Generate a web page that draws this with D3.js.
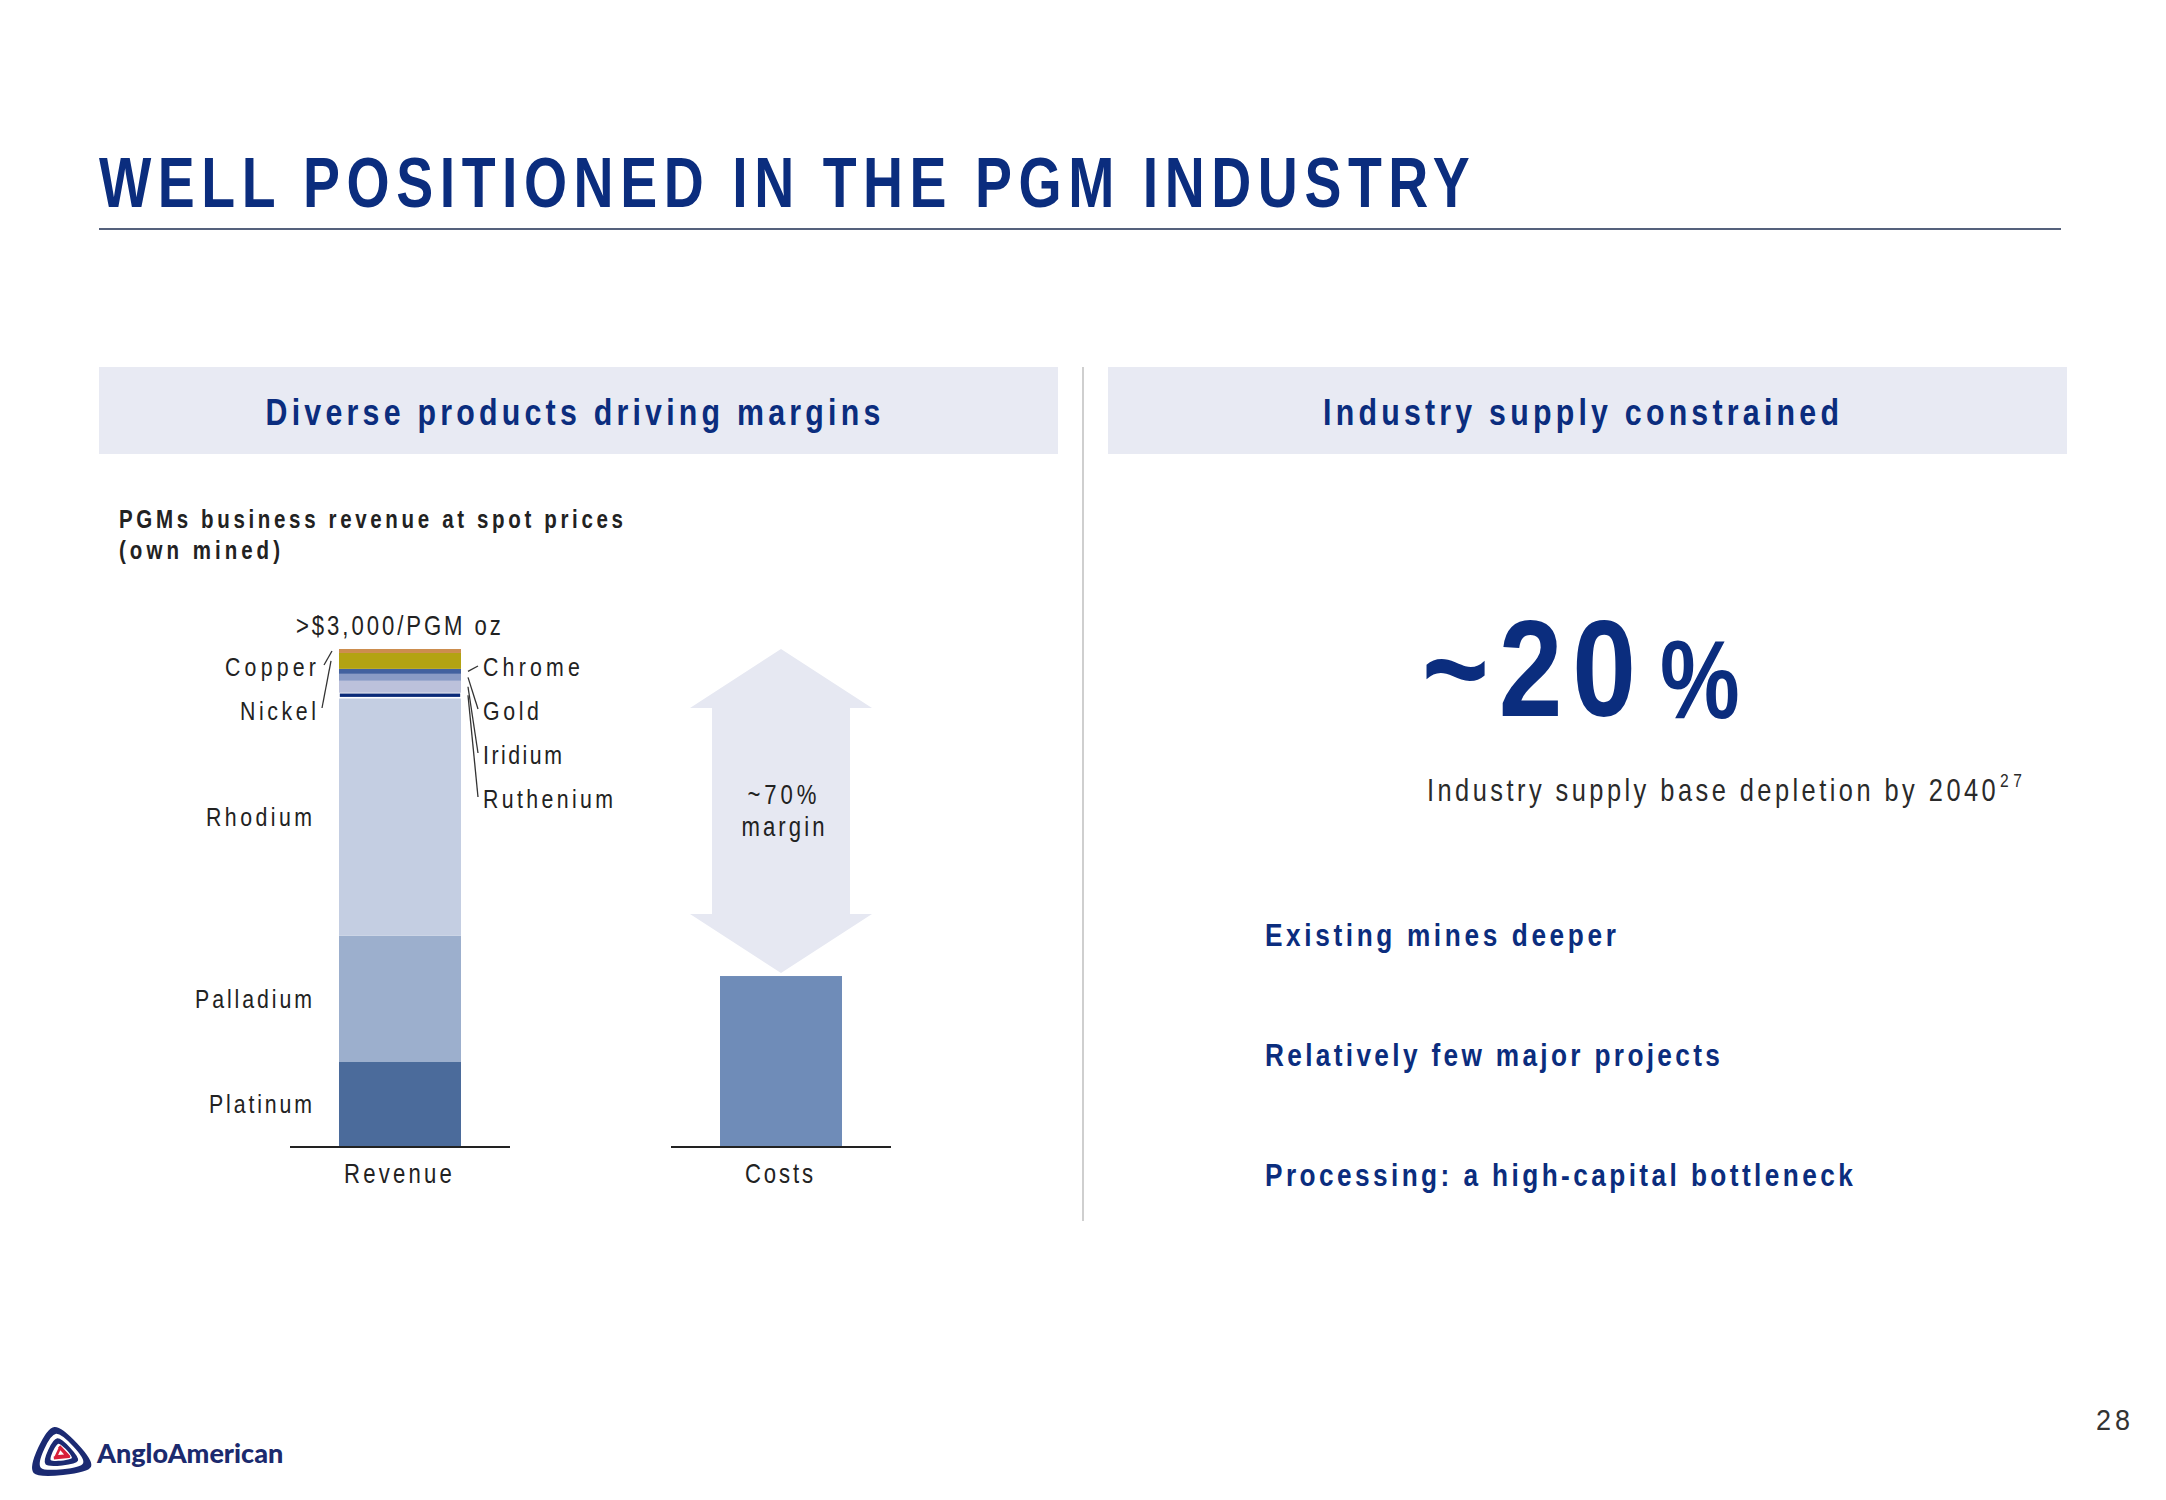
<!DOCTYPE html>
<html><head><meta charset="utf-8">
<script src="https://cdn.jsdelivr.net/npm/d3@7"></script>
<style>
html,body{margin:0;padding:0;background:#fff;}
svg{display:block;}
</style></head><body>
<svg id="c" width="2166" height="1500"></svg>
<script>
// ---------------- DATA ----------------
const categories = ["Revenue", "Costs"];
const products = ["Platinum","Palladium","Rhodium","Ruthenium","Iridium","Gold","Chrome","Nickel","Copper"];
const revenueShare = [16.9, 25.4, 47.9, 1.0, 2.4, 1.4, 1.0, 3.2, 0.8];   // % of revenue
const productColors = ["#4b6b9b","#9cafcd","#c4cee2","#0b2a78","#bcc1db","#8a9bc5","#42619f","#b3a312","#cc8d4e"];
const costsShare = 34.2;
const marginLabel = ["~70%", "margin"];
const priceLabel = ">$3,000/PGM oz";
const bigStat = "~20";
const bigStatText = "Industry supply base depletion by 2040";
const bigStatNote = "27";
const bullets = ["Existing mines deeper", "Relatively few major projects", "Processing: a high-capital bottleneck"];
const leftLabelled = ["Copper", "Nickel"];
const rightLabelled = ["Chrome", "Gold", "Iridium", "Ruthenium"];
const insideLabelled = ["Rhodium", "Palladium", "Platinum"];

// ---------------- STYLE ----------------
const SANS = "'Liberation Sans',Arial,sans-serif";
const NAVY = "#0b2d7e";
const INK = "#222";
const svg = d3.select("#c");

// condensed text helper: horizontally scaled, letter-spaced to a target width
function txt(str, o) {
  const sx = o.sx || 0.82;
  const g = svg.append("g");
  const t = g.append("text").attr("font-family", o.family || SANS).attr("font-size", o.size)
    .attr("font-weight", o.weight || 400).attr("fill", o.fill || INK).text(str);
  const w0 = t.node().getComputedTextLength();
  let ls = 0;
  if (o.width && str.length > 1) ls = (o.width / sx - w0) / (str.length - 1);
  t.attr("letter-spacing", ls);
  const W = o.width || w0 * sx;
  const anchor = o.anchor || "start";
  const x0 = anchor === "start" ? o.x : anchor === "end" ? o.x - W : o.x - W / 2;
  g.attr("transform", `translate(${x0},${o.y}) scale(${sx},1)`);
  return t;
}

// Title
txt("WELL POSITIONED IN THE PGM INDUSTRY", {x: 99, y: 207, size: 71, weight: 700, fill: NAVY, width: 1371, sx: 0.78});
svg.append("line").attr("x1", 99).attr("x2", 2061).attr("y1", 229).attr("y2", 229)
  .attr("stroke", "#1d2d50").attr("stroke-width", 1.5);

// Panel headers
const panels = [
  {x: 99, w: 959, text: "Diverse products driving margins", cx: 573, tw: 615},
  {x: 1108, w: 959, text: "Industry supply constrained", cx: 1581, tw: 516}
];
panels.forEach(p => {
  svg.append("rect").attr("x", p.x).attr("y", 367).attr("width", p.w).attr("height", 87).attr("fill", "#e8eaf3");
  txt(p.text, {x: p.cx, y: 425, anchor: "middle", size: 37, weight: 700, fill: NAVY, width: p.tw});
});
svg.append("line").attr("x1", 1083).attr("x2", 1083).attr("y1", 367).attr("y2", 1221)
  .attr("stroke", "#cfcfcf").attr("stroke-width", 2);

// Subtitle
txt("PGMs business revenue at spot prices", {x: 119, y: 528, size: 25, weight: 700, width: 504});
txt("(own mined)", {x: 119, y: 559, size: 25, weight: 700, width: 161});

// ---------------- CHART ----------------
const x = d3.scaleBand().domain(categories).range([290, 891]).paddingInner(0.4226);
const y = d3.scaleLinear().domain([0, 100]).range([1146, 649]);
const barW = 122;
const bx = c => x(c) + (x.bandwidth() - barW) / 2;
const color = d3.scaleOrdinal().domain(products).range(productColors);

const row = Object.fromEntries(products.map((p, i) => [p, revenueShare[i]]));
const stacked = d3.stack().keys(products)([row]);
const seg = {};
stacked.forEach(s => { seg[s.key] = s[0]; });

// margin arrow
const cx = x("Costs") + x.bandwidth() / 2;
const aTop = y(100), aBot = y(costsShare) - 3;
const headH = 59, headHW = 91, shaftHW = 69;
const ap = d3.path();
ap.moveTo(cx, aTop);
ap.lineTo(cx + headHW, aTop + headH);
ap.lineTo(cx + shaftHW, aTop + headH);
ap.lineTo(cx + shaftHW, aBot - headH);
ap.lineTo(cx + headHW, aBot - headH);
ap.lineTo(cx, aBot);
ap.lineTo(cx - headHW, aBot - headH);
ap.lineTo(cx - shaftHW, aBot - headH);
ap.lineTo(cx - shaftHW, aTop + headH);
ap.lineTo(cx - headHW, aTop + headH);
ap.closePath();
svg.append("path").attr("d", ap.toString()).attr("fill", "#e6e8f2");

txt(marginLabel[0], {x: 782, y: 804, anchor: "middle", size: 27, width: 69});
txt(marginLabel[1], {x: 783, y: 836, anchor: "middle", size: 27, width: 83});

// revenue stack
svg.append("g").selectAll("rect").data(stacked).join("rect")
  .attr("x", bx("Revenue")).attr("width", barW)
  .attr("y", d => y(d[0][1])).attr("height", d => y(d[0][0]) - y(d[0][1]))
  .attr("fill", d => color(d.key))
  .attr("stroke", d => d.key === "Ruthenium" ? "#fff" : "none")
  .attr("stroke-width", 1.6);

// costs bar
svg.append("rect").attr("x", bx("Costs")).attr("width", barW)
  .attr("y", y(costsShare)).attr("height", y(0) - y(costsShare)).attr("fill", "#6f8cb8");

// baselines + category labels
const catW = {Revenue: 108, Costs: 68};
categories.forEach(c => {
  svg.append("line").attr("x1", x(c)).attr("x2", x(c) + x.bandwidth()).attr("y1", y(0) + 1).attr("y2", y(0) + 1)
    .attr("stroke", "#222").attr("stroke-width", 2);
  txt(c, {x: x(c) + x.bandwidth() / 2 - 2, y: 1183, anchor: "middle", size: 27, width: catW[c]});
});

// price label
txt(priceLabel, {x: 296, y: 635, size: 27, width: 205});

// segment labels
const LBL = 26;
const labelW = {Copper: 91, Nickel: 76, Rhodium: 106, Palladium: 117, Platinum: 103,
                Chrome: 97, Gold: 56, Iridium: 79, Ruthenium: 130};
const segMid = k => y((seg[k][0] + seg[k][1]) / 2);
insideLabelled.forEach(k => {
  txt(k, {x: 312, y: segMid(k) + 9, anchor: "end", size: LBL, width: labelW[k]});
});
const leftX = bx("Revenue");
const rightX = bx("Revenue") + barW;
leftLabelled.forEach((k, i) => {
  const by = 676 + i * 44;
  txt(k, {x: leftX - 23, y: by, anchor: "end", size: LBL, width: labelW[k]});
  svg.append("line").attr("x1", leftX - 15 - i * 2).attr("y1", by - 11 - i)
    .attr("x2", leftX - 7 - i).attr("y2", segMid(k))
    .attr("stroke", "#333").attr("stroke-width", 1.3);
});
rightLabelled.forEach((k, i) => {
  const by = 676 + i * 44;
  txt(k, {x: rightX + 22, y: by, size: LBL, width: labelW[k]});
  svg.append("line").attr("x1", rightX + 7).attr("y1", segMid(k))
    .attr("x2", rightX + 17).attr("y2", by - 10 - (i === 0 ? 0 : 1))
    .attr("stroke", "#333").attr("stroke-width", 1.3);
});

// ---------------- RIGHT PANEL ----------------
txt(bigStat, {x: 1422, y: 716, size: 138, weight: 700, fill: NAVY, width: 214, sx: 0.83});
txt("%", {x: 1660, y: 718, size: 112, weight: 700, fill: NAVY, width: 75, sx: 0.8});
txt(bigStatText, {x: 1427, y: 801, size: 31, fill: "#2a2a2a", width: 569});
txt(bigStatNote, {x: 2000, y: 787, size: 19, fill: "#2a2a2a", width: 22});

const bulletW = [351, 455, 588];
bullets.forEach((b, i) => {
  txt(b, {x: 1265, y: 946 + i * 120, size: 32, weight: 700, fill: NAVY, width: bulletW[i]});
});

// page number
txt("28", {x: 2130, y: 1430, anchor: "end", size: 30, fill: "#333", width: 34, sx: 0.9});

// ---------------- LOGO ----------------
const lg = svg.append("g").attr("transform", "translate(61,1453)");
const tri = (s) => [[-6 * s, -22 * s], [26 * s, 12 * s], [-24 * s, 17 * s]];
const lineGen = d3.line().curve(d3.curveCardinalClosed.tension(0.2));
lg.append("path").attr("d", lineGen(tri(1.05))).attr("fill", "#1b2a72").attr("stroke", "#1b2a72").attr("stroke-width", 6).attr("stroke-linejoin", "round");
lg.append("path").attr("d", lineGen(tri(0.78))).attr("fill", "#fff").attr("stroke", "#fff").attr("stroke-width", 4).attr("stroke-linejoin", "round");
lg.append("path").attr("d", lineGen(tri(0.6))).attr("fill", "#1b2a72").attr("stroke", "#1b2a72").attr("stroke-width", 3).attr("stroke-linejoin", "round");
lg.append("path").attr("d", lineGen(tri(0.42))).attr("fill", "#fff");
lg.append("path").attr("d", d3.line()(tri(0.3))).attr("fill", "#d8203a").attr("stroke", "#d8203a").attr("stroke-width", 3).attr("stroke-linejoin", "round");
lg.append("path").attr("d", d3.line()(tri(0.12))).attr("fill", "#fff");
svg.append("text").attr("x", 97).attr("y", 1463)
  .attr("font-family", "Lato,'Open Sans',sans-serif").attr("font-weight", 900).attr("font-size", 27)
  .attr("fill", "#1b2a6e").text("AngloAmerican");
</script>
</body></html>
